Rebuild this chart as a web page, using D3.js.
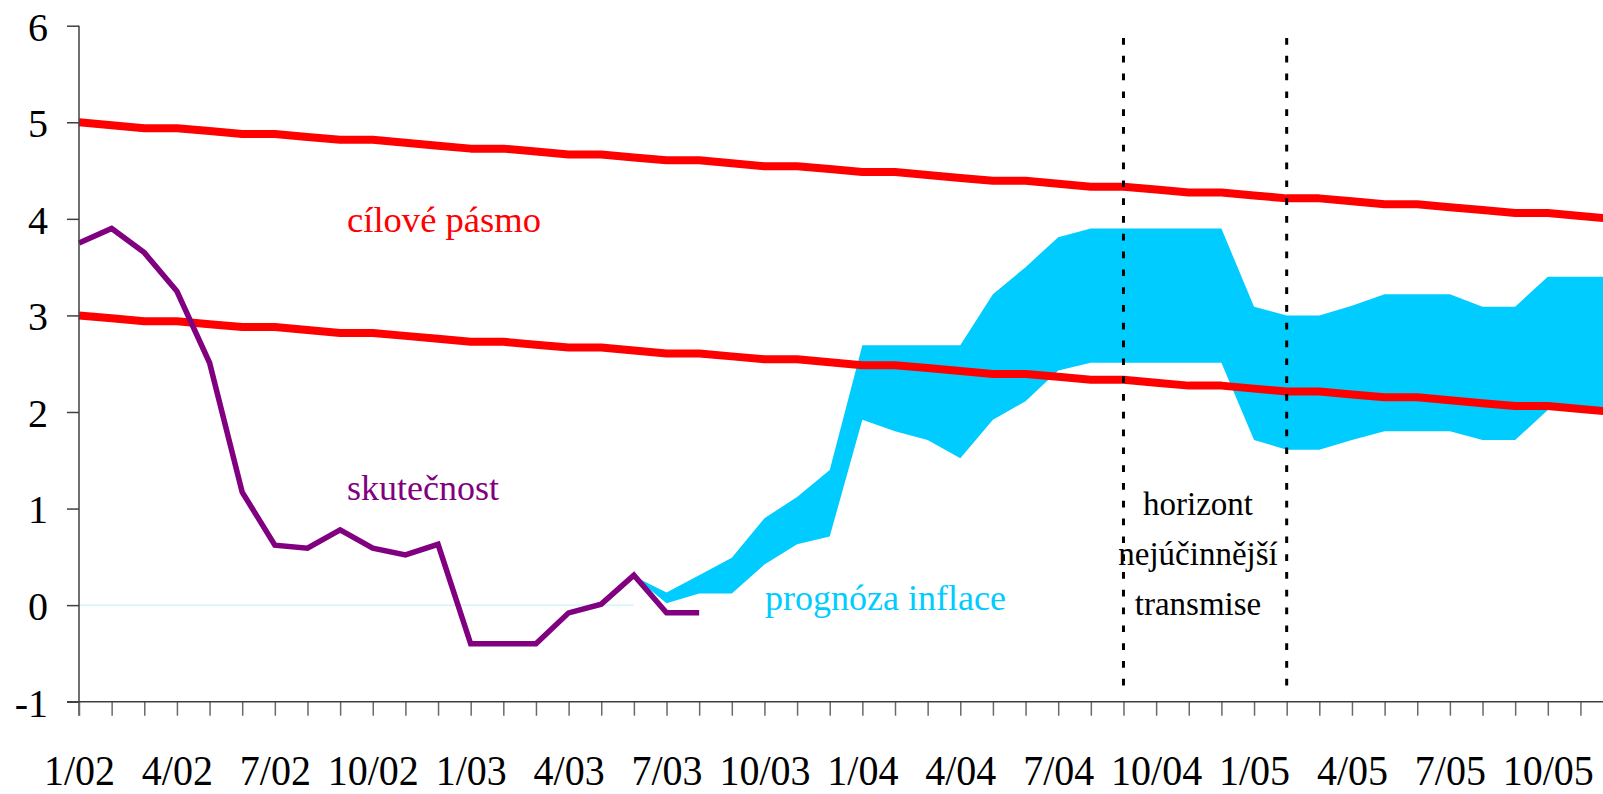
<!DOCTYPE html>
<html>
<head>
<meta charset="utf-8">
<script src="https://cdn.jsdelivr.net/npm/d3@7"></script>
<style>
  html, body { margin: 0; padding: 0; background: #ffffff; }
  svg { display: block; }
  text { font-family: "Liberation Serif", "Times New Roman", serif; }
</style>
</head>
<body>
<svg id="chart" width="1603" height="794"></svg>
<script>
// ---- data ----
const categories = ["1/02","2/02","3/02","4/02","5/02","6/02","7/02","8/02","9/02","10/02","11/02","12/02",
  "1/03","2/03","3/03","4/03","5/03","6/03","7/03","8/03","9/03","10/03","11/03","12/03",
  "1/04","2/04","3/04","4/04","5/04","6/04","7/04","8/04","9/04","10/04","11/04","12/04",
  "1/05","2/05","3/05","4/05","5/05","6/05","7/05","8/05","9/05","10/05","11/05","12/05"];
const yTicks = [-1, 0, 1, 2, 3, 4, 5, 6];

// actual inflation (skutečnost), from 1/02
const actual = [3.75, 3.90, 3.65, 3.25, 2.51, 1.17, 0.62, 0.59, 0.78, 0.59, 0.52, 0.63,
  -0.40, -0.40, -0.40, -0.08, 0.01, 0.31, -0.08, -0.08];

// target band (cílové pásmo)
const targetUpper = [5.000, 4.970, 4.939, 4.939, 4.909, 4.879, 4.879, 4.848, 4.818, 4.818, 4.788, 4.758,
  4.727, 4.727, 4.697, 4.667, 4.667, 4.636, 4.606, 4.606, 4.576, 4.545, 4.545, 4.515,
  4.485, 4.485, 4.455, 4.424, 4.394, 4.394, 4.364, 4.333, 4.333, 4.303, 4.273, 4.273,
  4.242, 4.212, 4.212, 4.182, 4.152, 4.152, 4.121, 4.091, 4.061, 4.061, 4.030, 4.000];
const targetLower = [3.000, 2.970, 2.939, 2.939, 2.909, 2.879, 2.879, 2.848, 2.818, 2.818, 2.788, 2.758,
  2.727, 2.727, 2.697, 2.667, 2.667, 2.636, 2.606, 2.606, 2.576, 2.545, 2.545, 2.515,
  2.485, 2.485, 2.455, 2.424, 2.394, 2.394, 2.364, 2.333, 2.333, 2.303, 2.273, 2.273,
  2.242, 2.212, 2.212, 2.182, 2.152, 2.152, 2.121, 2.091, 2.061, 2.061, 2.030, 2.000];

// inflation forecast band (prognóza inflace), starting at 6/03
const forecastStart = "6/03";
const forecastHigh = [0.30, 0.13, 0.31, 0.49, 0.90, 1.12, 1.40, 2.69, 2.69, 2.69, 2.69, 3.22,
  3.50, 3.81, 3.90, 3.90, 3.90, 3.90, 3.90, 3.09, 3.00, 3.00, 3.10, 3.22, 3.22, 3.22,
  3.09, 3.09, 3.40, 3.40, 3.40];
const forecastLow = [0.30, 0.02, 0.12, 0.12, 0.42, 0.63, 0.71, 1.92, 1.80, 1.71, 1.52, 1.92,
  2.11, 2.43, 2.51, 2.51, 2.51, 2.51, 2.51, 1.71, 1.61, 1.61, 1.71, 1.80, 1.80, 1.80,
  1.71, 1.71, 2.02, 2.02, 2.02];

// horizon of most effective transmission
const horizonMonths = ["9/04", "2/05"];

// ---- layout ----
const W = 1603, H = 794;
const svg = d3.select("#chart");
svg.append("rect").attr("width", W).attr("height", H).attr("fill", "#ffffff");

const x = d3.scaleLinear().domain([0, categories.length - 1]).range([79, 79 + 47 * 32.64]);
const y = d3.scaleLinear().domain([-1, 6]).range([701.7, 25.7]);
const xi = c => x(categories.indexOf(c));

const RED = "#ff0000", PURPLE = "#800080", CYAN = "#00ccff";

// zero baseline (thin light cyan)
const fStartIdx = categories.indexOf(forecastStart);
svg.append("line")
  .attr("x1", x(0)).attr("x2", x(fStartIdx))
  .attr("y1", y(0)).attr("y2", y(0))
  .attr("stroke", "#c6f3ff").attr("stroke-width", 1.2);

// forecast band
const bandData = forecastHigh.map((h, i) => ({ i: fStartIdx + i, hi: h, lo: forecastLow[i] }));
svg.append("path")
  .datum(bandData)
  .attr("fill", CYAN)
  .attr("d", d3.area().x(d => x(d.i)).y0(d => y(d.lo)).y1(d => y(d.hi)));

// target lines
const line = d3.line().x((d, i) => x(i)).y(d => y(d));
[targetUpper, targetLower].forEach(s => {
  svg.append("path").datum(s)
    .attr("fill", "none").attr("stroke", RED).attr("stroke-width", 8)
    .attr("stroke-linejoin", "round")
    .attr("d", line);
});

// actual inflation
svg.append("path").datum(actual)
  .attr("fill", "none").attr("stroke", PURPLE).attr("stroke-width", 5.5)
  .attr("stroke-linejoin", "miter")
  .attr("d", line);

// horizon dashed lines
svg.selectAll("line.horizon").data(horizonMonths).enter().append("line")
  .attr("class", "horizon")
  .attr("x1", d => xi(d)).attr("x2", d => xi(d))
  .attr("y1", 38).attr("y2", 690)
  .attr("stroke", "#000").attr("stroke-width", 3)
  .attr("stroke-dasharray", "6.7,11.1");

// ---- axes ----
const axisColor = "#404040";
const gy = svg.append("g").attr("transform", `translate(${x(0)},0)`)
  .call(d3.axisLeft(y).tickValues(yTicks).tickSize(12).tickSizeOuter(0).tickPadding(19)
    .tickFormat(d => String(d)));
gy.select(".domain").remove();
gy.append("line").attr("x1", 0).attr("x2", 0).attr("y1", y(6)).attr("y2", y(-1) + 14)
  .attr("stroke", axisColor).attr("stroke-width", 1.5);
gy.selectAll(".tick line").attr("stroke", axisColor).attr("stroke-width", 1.5);
gy.selectAll("text").attr("font-size", 40).attr("fill", "#000")
  .attr("font-family", "'Liberation Serif','Times New Roman',serif")
  .attr("dy", "0.36em");

const gx = svg.append("g").attr("transform", `translate(0,${y(-1)})`)
  .call(d3.axisBottom(x).tickValues(d3.range(categories.length)).tickSize(14).tickSizeOuter(0)
    .tickFormat(i => (i % 3 === 0 ? categories[i] : "")));
gx.select(".domain").remove();
gx.append("line").attr("x1", x(0) - 12).attr("x2", W).attr("y1", 0).attr("y2", 0)
  .attr("stroke", axisColor).attr("stroke-width", 1.5);
gx.selectAll(".tick line").attr("stroke", "#6a6a6a").attr("stroke-width", 1.5);
gx.selectAll("text")
  .attr("font-size", 40).attr("fill", "#000")
  .attr("font-family", "'Liberation Serif','Times New Roman',serif")
  .attr("y", 0).attr("dy", 0)
  .attr("transform", "translate(0,83) scale(1,1.08)");

// ---- annotations ----
const ann = svg.append("g").attr("font-family", "'Liberation Serif','Times New Roman',serif");
ann.append("text").attr("x", 347).attr("y", 231.5).attr("font-size", 36.6)
  .attr("fill", RED).text("cílové pásmo");
ann.append("text").attr("x", 347).attr("y", 500).attr("font-size", 36)
  .attr("fill", PURPLE).text("skutečnost");
ann.append("text").attr("x", 765).attr("y", 610).attr("font-size", 36)
  .attr("fill", CYAN).text("prognóza inflace");
const hx = 1198;
[["horizont", 515], ["nejúčinnější", 565], ["transmise", 615]].forEach(([t, yy]) => {
  ann.append("text").attr("x", hx).attr("y", yy).attr("font-size", 33)
    .attr("text-anchor", "middle").attr("fill", "#000").text(t);
});
</script>
</body>
</html>
